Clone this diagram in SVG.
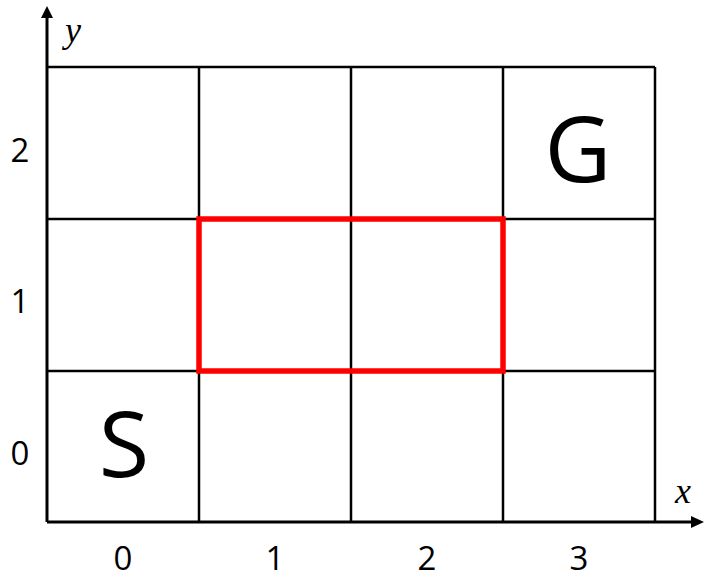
<svg xmlns="http://www.w3.org/2000/svg" width="707" height="579" viewBox="0 0 707 579">
<style>
.grid{stroke:#000;stroke-width:2.5;fill:none}
.axis{stroke:#000;stroke-width:3;fill:none}
.num{font-family:"Open Sans","Noto Sans",sans-serif;font-size:33px;fill:#000;text-anchor:middle}
.big{font-family:"Open Sans","Noto Sans",sans-serif;font-size:92px;fill:#000;text-anchor:middle}
.var{font-family:"Liberation Serif","DejaVu Serif",serif;font-style:italic;font-size:36px;fill:#000;text-anchor:middle}
</style>
<rect width="707" height="579" fill="#fff"/>
<g id="grid">
<path class="grid" d="M47,67H655M47,219H655M47,371H655M199,67V522M351,67V522M503,67V522M655,67V522"/>
</g>
<g id="axes">
<path class="axis" d="M47,522V16M47,522H692"/>
<polygon points="47,6 41,18 53,18" fill="#000"/>
<polygon points="704,522 691,516 691,528" fill="#000"/>
<text class="var" x="73" y="42">y</text>
<text class="var" x="683" y="503">x</text>
</g>
<g id="region">
<rect x="199" y="219" width="304" height="152" fill="none" stroke="#f00" stroke-width="5.5"/>
</g>
<g id="labels">
<text class="num" x="20" y="162">2</text>
<text class="num" x="20" y="313">1</text>
<text class="num" x="20" y="465">0</text>
<text class="num" x="123" y="570">0</text>
<text class="num" x="275" y="570">1</text>
<text class="num" x="427" y="570">2</text>
<text class="num" x="579" y="570">3</text>
</g>
<g id="start"><text class="big" x="124" y="477">S</text></g>
<g id="goal"><text class="big" x="578" y="182">G</text></g>
</svg>
